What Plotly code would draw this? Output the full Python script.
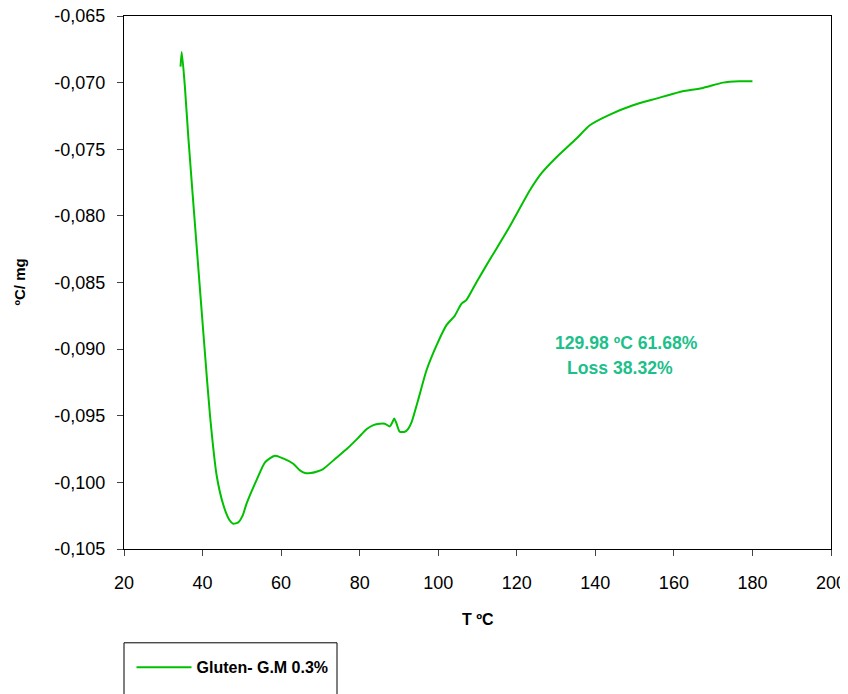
import plotly.graph_objects as go

# Curve data (T in ºC, signal in ºC/mg)
temp_c = [34.4, 34.7, 35.5, 36.4, 38.5, 40.5, 41.9, 43.6, 45.3, 46.8, 47.8, 49.1,
          50.2, 51.2, 53.8, 55.9, 58.4, 60.5, 63.1, 64.8, 66.1, 67.5, 69.0, 70.7,
          73.5, 76.7, 79.5, 81.8, 83.5, 85.1, 86.4, 87.7, 88.3, 88.8, 89.4, 90.2,
          91.5, 92.3, 93.2, 94.9, 97.0, 99.6, 102.1, 104.2, 105.9, 107.2, 109.7,
          113.1, 118.2, 123.3, 126.3, 130.1, 135.2, 138.6, 143.7, 149.6, 155.5,
          161.5, 167.4, 172.5, 176.7, 180.0]
signal = [-0.0688, -0.0677, -0.0703, -0.0742, -0.0823, -0.0899, -0.0950, -0.0995,
          -0.1017, -0.1028, -0.1031, -0.1030, -0.1025, -0.1016, -0.0998, -0.0985,
          -0.0980, -0.0982, -0.0986, -0.0991, -0.0993, -0.0993, -0.0992, -0.0990,
          -0.0983, -0.0975, -0.0967, -0.0960, -0.0957, -0.0956, -0.0956, -0.0958,
          -0.0955, -0.0952, -0.0956, -0.0962, -0.0962, -0.0960, -0.0955, -0.0938,
          -0.0916, -0.0897, -0.0882, -0.0875, -0.0866, -0.0863, -0.0850, -0.0833,
          -0.0808, -0.0781, -0.0768, -0.0756, -0.0742, -0.0732, -0.0724, -0.0717,
          -0.0712, -0.0707, -0.0704, -0.0700, -0.0699, -0.0699]

x_ticks = [20, 40, 60, 80, 100, 120, 140, 160, 180, 200]
y_ticks = [-0.065, -0.070, -0.075, -0.080, -0.085, -0.090, -0.095, -0.100, -0.105]
y_tick_labels = ["-0,065", "-0,070", "-0,075", "-0,080", "-0,085", "-0,090",
                 "-0,095", "-0,100", "-0,105"]

series_name = "Gluten- G.M 0.3%"
x_title = "T ºC"
y_title = "ºC/ mg"
note_line1 = "129.98 ºC 61.68%"
note_line2 = "Loss 38.32%"

FONT = "Liberation Sans, Arial, sans-serif"

fig = go.Figure()
fig.add_trace(go.Scatter(
    x=temp_c, y=signal, mode="lines", name=series_name,
    line=dict(color="#00C000", width=2, shape="spline", smoothing=0.6),
))

fig.update_layout(
    width=840, height=686,
    margin=dict(l=116, r=17, t=8, b=145, autoexpand=False),
    paper_bgcolor="white", plot_bgcolor="white",
    font=dict(family=FONT, size=18, color="black"),
    showlegend=True,
    legend=dict(
        x=0.0106, y=-0.19, xanchor="left", yanchor="top",
        font=dict(family=FONT, size=16, color="black", weight="bold"),
        bgcolor="rgba(0,0,0,0)", borderwidth=0, itemwidth=55,
    ),
    xaxis=dict(
        range=[20, 200], tickvals=x_ticks, ticks="outside", ticklen=6,
        showline=True, linecolor="black", linewidth=1, mirror=True,
        showgrid=False, zeroline=False, ticklabelstandoff=11, automargin=False,
        ticklabeloverflow="allow",
    ),
    yaxis=dict(
        range=[-0.105, -0.065], tickvals=y_ticks, ticktext=y_tick_labels,
        ticks="outside", ticklen=6, automargin=False,
        showline=True, linecolor="black", linewidth=1, mirror=True,
        showgrid=False, zeroline=False, ticklabelstandoff=8,
        ticklabeloverflow="allow",
    ),
    shapes=[dict(
        type="rect", xref="paper", yref="paper",
        x0=0, x1=(337 - 124) / 707, y0=-0.176, y1=-0.40,
        line=dict(color="black", width=1), fillcolor="rgba(0,0,0,0)",
    )],
    annotations=[
        dict(x=0.5, y=-0.133, xref="paper", yref="paper", text="<b>" + x_title + "</b>",
             xanchor="center", yanchor="middle",
             showarrow=False, font=dict(family=FONT, size=16, color="black")),
        dict(x=-0.1485, y=0.5, xref="paper", yref="paper", text="<b>" + y_title + "</b>",
             xanchor="center", yanchor="middle",
             textangle=-90, showarrow=False, font=dict(family=FONT, size=15, color="black")),
        dict(x=148.0, y=-0.08956, xref="x", yref="y", text="<b>" + note_line1 + "</b>",
             showarrow=False, font=dict(family=FONT, size=17.6, color="#1DBF8A")),
        dict(x=146.3, y=-0.09144, xref="x", yref="y", text="<b>" + note_line2 + "</b>",
             showarrow=False, font=dict(family=FONT, size=17.6, color="#1DBF8A")),
    ],
)

fig.write_html("out.html")
